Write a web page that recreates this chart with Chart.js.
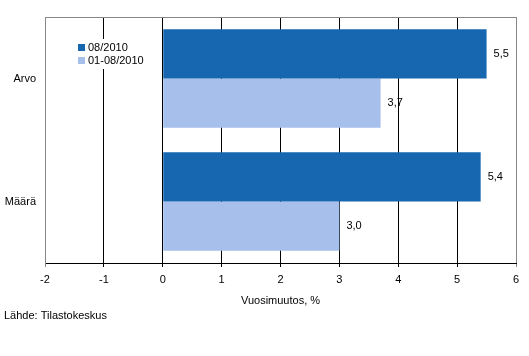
<!DOCTYPE html>
<html>
<head>
<meta charset="utf-8">
<script src="https://cdn.jsdelivr.net/npm/chart.js@4"></script>
<style>
  html, body { margin: 0; padding: 0; background: #fff; }
  #wrap { width: 529px; height: 356px; position: relative; }
</style>
</head>
<body>
<div id="wrap"><canvas id="myChart"></canvas></div>
<script>
var kategoriat = ["Arvo", "Määrä"];
var sarjaNimet = ["08/2010", "01-08/2010"];
var kuukausi = [5.5, 5.4];
var kertyma = [3.7, 3.0];
var xTikit = [-2, -1, 0, 1, 2, 3, 4, 5, 6];

var tummaSininen = "#1667b0";
var vaaleaSininen = "#a7bfeb";
var fontti = "Liberation Sans, Arial, sans-serif";

// arvot pilkulla, kehys, selite ja lähde
const omatPiirrot = {
    id: "omatPiirrot",
    afterDatasetsDraw(chart) {
        const ctx = chart.ctx;
        const area = chart.chartArea;
        ctx.save();
        ctx.font = "11px " + fontti;
        ctx.fillStyle = "#000";
        ctx.textBaseline = "middle";
        ctx.textAlign = "left";
        chart.data.datasets.forEach(function(ds, i) {
            const meta = chart.getDatasetMeta(i);
            meta.data.forEach(function(bar, j) {
                ctx.fillText(ds.data[j].toFixed(1).replace(".", ","), bar.x + 7, bar.y);
            });
        });

        // yläreuna
        ctx.strokeStyle = "#888";
        ctx.lineWidth = 1;
        ctx.beginPath();
        ctx.moveTo(area.left, area.top + 0.5);
        ctx.lineTo(area.right, area.top + 0.5);
        ctx.stroke();

        // selite
        ctx.fillStyle = "#fff";
        ctx.fillRect(74, 39, 78, 30);
        const cols = [tummaSininen, vaaleaSininen];
        for (let i = 0; i < sarjaNimet.length; i++) {
            const y = 44 + i * 13;
            ctx.fillStyle = cols[i];
            ctx.fillRect(78, y, 7, 7);
            ctx.fillStyle = "#000";
            ctx.fillText(sarjaNimet[i], 88, y + 4);
        }

        // akselin otsikko ja lähde
        ctx.textAlign = "center";
        ctx.fillText("Vuosimuutos, %", (area.left + area.right) / 2, 301);
        ctx.textAlign = "left";
        ctx.fillText("Lähde: Tilastokeskus", 4, 316);
        ctx.restore();
    }
};

const config = {
    type: "bar",
    data: {
        labels: kategoriat,
        datasets: [
            {
                label: sarjaNimet[0],
                data: kuukausi,
                backgroundColor: tummaSininen,
                borderWidth: 0,
                categoryPercentage: 0.8,
                barPercentage: 1.0
            },
            {
                label: sarjaNimet[1],
                data: kertyma,
                backgroundColor: vaaleaSininen,
                borderWidth: 0,
                categoryPercentage: 0.8,
                barPercentage: 1.0
            }
        ]
    },
    options: {
        indexAxis: "y",
        responsive: true,
        maintainAspectRatio: false,
        animation: false,
        layout: { padding: { top: 17, right: 13, left: 0, bottom: 0 } },
        plugins: {
            legend: { display: false },
            tooltip: { enabled: false }
        },
        scales: {
            x: {
                min: -2,
                max: 6,
                afterBuildTicks: function(scale) {
                    scale.ticks = xTikit.map(function(v) { return { value: v }; });
                },
                afterFit: function(scale) { scale.height = 93; },
                grid: {
                    color: function(c) {
                        return (c.index === 0 || c.index === xTikit.length - 1) ? "#888" : "#000";
                    },
                    lineWidth: 1,
                    tickLength: 4,
                    drawOnChartArea: true
                },
                border: { color: "#000", width: 1 },
                ticks: {
                    color: "#000",
                    padding: 6,
                    font: { family: fontti, size: 11 }
                }
            },
            y: {
                afterFit: function(scale) { scale.width = 45; },
                grid: { display: false, drawTicks: false },
                border: { color: "#888", width: 1 },
                ticks: {
                    color: "#000",
                    padding: 9,
                    font: { family: fontti, size: 11 }
                }
            }
        }
    },
    plugins: [omatPiirrot]
};

const ctx = document.getElementById("myChart").getContext("2d");
const myChart = new Chart(ctx, config);
</script>
</body>
</html>
